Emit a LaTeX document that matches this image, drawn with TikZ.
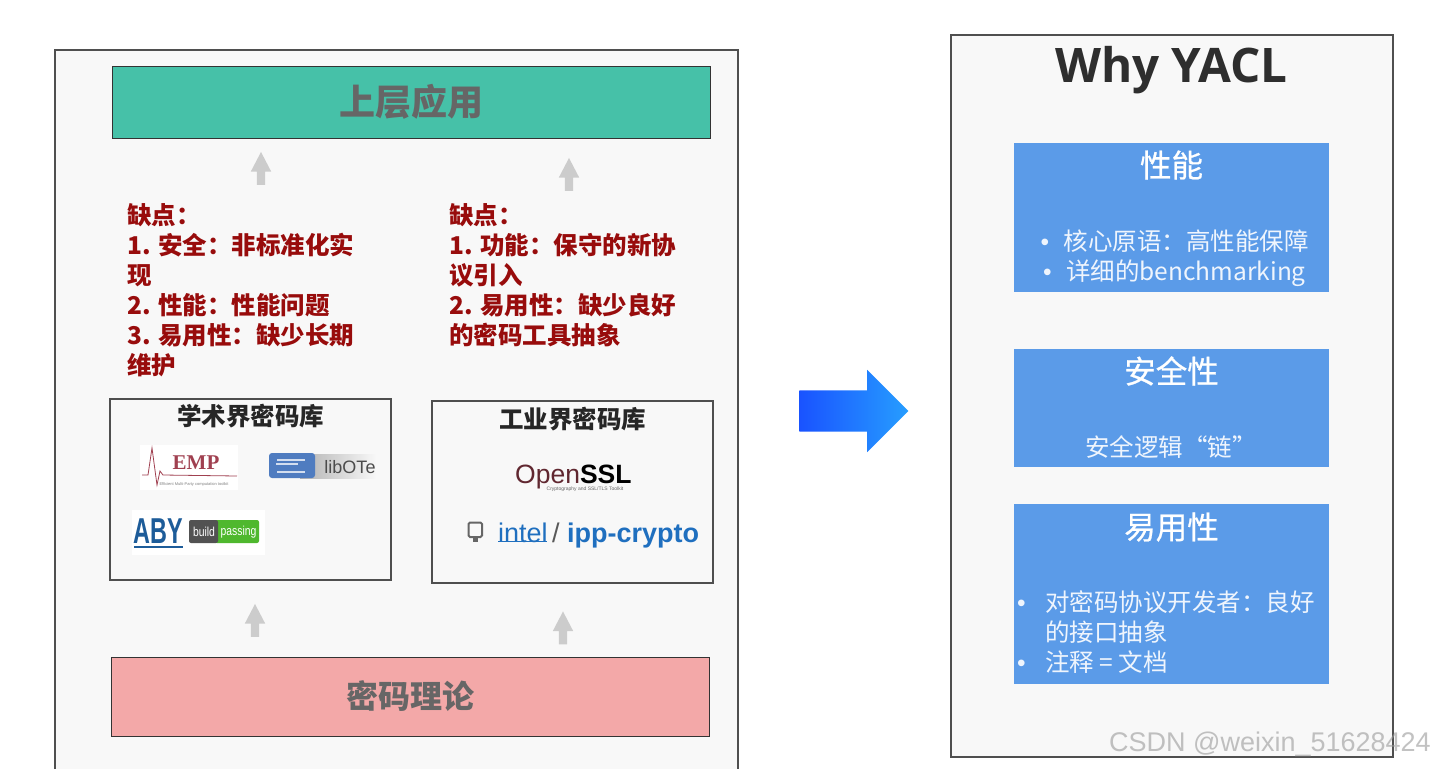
\documentclass[tikz,border=0pt]{standalone}
\usepackage{fontspec}
\setmainfont{Noto Sans CJK SC}
\newfontfamily\cjkmedium[FakeBold=0.7]{Noto Sans CJK SC}
\newfontfamily\latinfont{Liberation Sans}
\newfontfamily\seriffont{Liberation Serif}
\newfontfamily\headfont{Open Sans}
\usetikzlibrary{positioning, shapes.arrows}
\definecolor{panelfill}{HTML}{F8F8F8}
\definecolor{edgegrey}{HTML}{4F4F4F}
\definecolor{appteal}{HTML}{46C1A8}
\definecolor{theorypink}{HTML}{F3A8A8}
\definecolor{featblue}{HTML}{5B9BE8}
\definecolor{flawred}{HTML}{980C0C}
\definecolor{titlegrey}{HTML}{666666}
\definecolor{linkblue}{HTML}{1F6FBF}
\definecolor{abyblue}{HTML}{1D5C99}
\definecolor{empred}{HTML}{A04050}
\definecolor{otblue}{HTML}{4F7CC0}
\definecolor{passgreen}{HTML}{4FB82E}

\begin{document}
\begin{tikzpicture}[
          x=1pt, y=-1pt,
          node distance=36pt and 20pt,
          layerbox/.style={rectangle, draw=black!80, line width=1pt, inner sep=0pt,
                        minimum width=598pt, text=titlegrey},
          libbox/.style={rectangle, draw=edgegrey, line width=1.2pt, fill=panelfill,
                        inner sep=0pt, minimum width=281pt},
          libtitle/.style={font=\fontsize{24.5}{28}\selectfont\bfseries, text=black!85, inner sep=0pt},
          flawtext/.style={anchor=north west, align=left, inner sep=0pt, text=flawred,
                        font=\fontsize{24.5}{30}\selectfont\bfseries},
          featbox/.style={rectangle, fill=featblue, inner sep=0pt, minimum width=315pt},
          feattitle/.style={font=\fontsize{31.5}{36}\cjkmedium, text=white, inner sep=0pt},
          feattext/.style={inner sep=0pt, text=white!90!featblue,
                        font=\fontsize{24.5}{30}\selectfont},
          uparrow/.style={single arrow, fill=black!20, inner sep=4pt, minimum height=33pt,
                        minimum width=20pt, single arrow head extend=6pt,
                        single arrow tip angle=55, shape border rotate=90},
        ]
        \newcommand{\bulletbox}[1]{\makebox[#1][l]{\latinfont\fontsize{24.5}{30}\selectfont •}}
        \useasboundingbox (0,0) rectangle (1435,769);
        % panels
        \fill[panelfill] (55,50) rectangle (738,769);
        \draw[edgegrey, line width=1.2pt] (55,769) -- (55,50) -- (738,50) -- (738,769);
        \node[rectangle, draw=edgegrey, line width=1.2pt, fill=panelfill, inner sep=0pt,
              minimum width=442pt, minimum height=722pt] (whypanel) at (1172,396) {};

        % left column
        \node[layerbox, fill=appteal, minimum height=72pt, font=\fontsize{36}{40}\selectfont\bfseries] (app) at (411.5,102) {\raisebox{3pt}{上层应用}};
        \node[layerbox, fill=theorypink, minimum height=79pt, font=\fontsize{32}{36}\selectfont\bfseries] (theory) at (410,696.5) {\raisebox{1pt}{密码理论}};
        \node[libbox, minimum height=181pt] (acad) at (250.5,489.5) {};
        \node[libbox, minimum height=182pt] (indus) at (572.5,492) {};
        \node[libtitle] (acadtitle) at (250.5,416) {学术界密码库};
        \node[libtitle] (industitle) at (572.5,419) {工业界密码库};

        \node[uparrow] (uparrowa) at (261,172.5) {};
        \node[uparrow] (uparrowb) at (569,178.5) {};
        \node[uparrow] (uparrowc) at (255,624.5) {};
        \node[uparrow] (uparrowd) at (563,632) {};

        \node[flawtext] (flawacad) at (127,203) {缺点：\\1. 安全：非标准化实\\现\\2. 性能：性能问题\\3. 易用性：缺少长期\\维护};
        \node[flawtext] (flawindus) at (449,203) {缺点：\\1. 功能：保守的新协\\议引入\\2. 易用性：缺少良好\\的密码工具抽象};

        % academic logos
        \fill[white] (140,445) rectangle (238,490);
        \draw[empred, line width=0.8pt] (142,475) -- (148,475) -- (152,448) -- (157,485) -- (160,471)
              -- (163,475) -- (237,476);
        \node[inner sep=0pt, text=empred, font=\fontsize{21}{24}\seriffont\bfseries] (emp) at (196,463) {EMP};
        \node[inner sep=0pt, text=black!50, font=\fontsize{4}{5}\latinfont] (empsub) at (194,484) {Efficient Multi-Party computation toolkit};
        \shade[left color=black!30, right color=panelfill] (300,454) rectangle (376,478);
        \fill[otblue, rounded corners=3pt] (269,453) rectangle (315,478);
        \fill[white!75!otblue] (277,459) rectangle (305,461);
        \fill[white!75!otblue] (276,463) rectangle (298,465);
        \fill[white!75!otblue] (277,471) rectangle (305,473);
        \node[inner sep=0pt, text=black!70, font=\fontsize{18}{22}\latinfont] (libote) at (350,467) {libOTe};
        \fill[white] (132,510) rectangle (265,555);
        \node[inner sep=0pt, text=abyblue, xscale=0.65, font=\fontsize{36}{40}\latinfont\bfseries] (aby) at (158.5,531) {ABY};
        \fill[abyblue] (134,545.5) rectangle (183,548);
        \fill[passgreen, rounded corners=2pt] (215,520) rectangle (259,543);
        \fill[black!68, rounded corners=2pt] (189,520) rectangle (218,543);
        \node[inner sep=0pt, text=white, xscale=0.8, font=\fontsize{13}{14}\latinfont] (build) at (204,532) {build};
        \node[inner sep=0pt, text=white, xscale=0.8, font=\fontsize{13}{14}\latinfont] (passing) at (238.5,532) {passing};

        % industry logos
        \node[anchor=base west, inner sep=0pt, text depth=0pt, font=\fontsize{26.5}{30}\latinfont] (openssl) at (515,483)
              {\textcolor{empred!60!black}{Open}\textcolor{black}{\bfseries SSL}};
        \node[inner sep=0pt, text=black!60, font=\fontsize{5}{6}\latinfont] (opensub) at (585,489.5) {Cryptography and SSL/TLS Toolkit};
        \draw[black!60, line width=2pt, rounded corners=1.5pt] (468.5,537) -- (468.5,522.5) -- (482,522.5) -- (482,537) -- cycle;
        \fill[black!60] (473,537) rectangle (478,542);
        \node[anchor=base west, inner sep=0pt, text=linkblue, font=\fontsize{27}{30}\latinfont] (intel) at (498,542) {intel};
        \draw[linkblue, line width=1.2pt] (intel.south west) ++(0,-1) -- ++(49,0);
        \node[anchor=base west, inner sep=0pt, text=black!65, font=\fontsize{27}{30}\latinfont] (slash) at (552,542) {/};
        \node[anchor=base west, inner sep=0pt, text=linkblue, font=\fontsize{27}{30}\latinfont\bfseries] (ipp) at (567,542) {ipp-crypto};

        % big arrow
        \node[single arrow, inner sep=20.5pt, minimum height=109pt, minimum width=82pt,
              single arrow head extend=20.5pt, left color=blue!75!cyan!90!white, right color=cyan!55!blue!85!white] (bigarrow) at (843.5,411) {};

        % right column
        \node[anchor=base, inner sep=0pt, text=black!82, font=\fontsize{47.6}{54}\headfont\bfseries] (why) at (1171.5,82) {Why YACL};
        \node[featbox, minimum height=149pt] (perf) at (1171.5,217.5) {};
        \node[featbox, minimum height=118pt, below=57pt of perf] (safe) {};
        \node[featbox, minimum height=180pt, below=36pt of safe] (easy) {};
        \node[feattitle] (perftitle) at (1171.5,165) {性能};
        \node[feattitle] (safetitle) at (1171.5,371) {安全性};
        \node[feattitle] (easytitle) at (1171.5,527) {易用性};
        \node[feattext, align=center] (perftext) at (1174.5,258.5) {\bulletbox{23pt}核心原语：高性能保障\\\bulletbox{23pt}详细的benchmarking};
        \node[feattext] (safetext) at (1171,447) {安全逻辑“链”};
        \node[feattext, align=left, anchor=west] (easytext) at (1017,632) {\bulletbox{28pt}对密码协议开发者：良好\\\hspace{28pt}的接口抽象\\\bulletbox{28pt}注释 = 文档};

        \node[inner sep=0pt, anchor=east, text=black!40, text opacity=0.6, font=\fontsize{27}{30}\latinfont] (mark) at (1431,744.5) {CSDN @weixin\_51628424};
      \end{tikzpicture}
\end{document}
